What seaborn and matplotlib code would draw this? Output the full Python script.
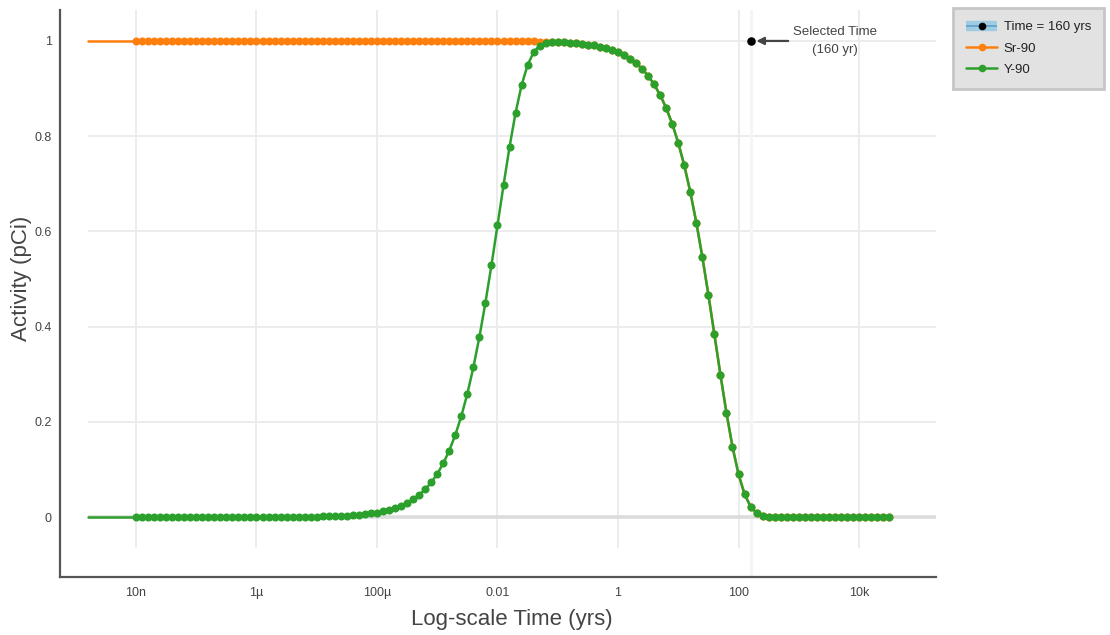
import numpy as np
import pandas as pd
import matplotlib
matplotlib.use("Agg")
import matplotlib.pyplot as plt
from matplotlib.lines import Line2D
import seaborn as sns

# ---------------- data ----------------
time_start_exp = -8.0      # first sampled time 10^-8 yr
time_stop_exp = 4.5        # last sampled time 10^4.5 yr
n_points = 126
time_yrs = np.logspace(time_start_exp, time_stop_exp, n_points)
lead_in_time = 1.6e-9      # line extends left without markers

sr90 = [
    1.0, 1.0, 1.0, 1.0, 1.0, 1.0, 1.0, 1.0, 1.0, 1.0,
    1.0, 1.0, 1.0, 1.0, 1.0, 1.0, 1.0, 1.0, 1.0, 1.0,
    1.0, 1.0, 1.0, 1.0, 1.0, 1.0, 1.0, 1.0, 1.0, 1.0,
    1.0, 1.0, 1.0, 1.0, 1.0, 1.0, 1.0, 1.0, 1.0, 1.0,
    1.0, 1.0, 1.0, 1.0, 1.0, 1.0, 1.0, 1.0, 1.0, 1.0,
    1.0, 1.0, 1.0, 1.0, 1.0, 1.0, 1.0, 1.0, 1.0, 1.0,
    0.9998, 0.9997, 0.9996, 0.9995, 0.9994, 0.9992, 0.9990, 0.9988, 0.9985, 0.9981,
    0.9976, 0.9970, 0.9962, 0.9952, 0.9940, 0.9924, 0.9905, 0.9880, 0.9849, 0.9811,
    0.9762, 0.9701, 0.9626, 0.9531, 0.9413, 0.9267, 0.9086, 0.8863, 0.8590, 0.8259,
    0.7860, 0.7385, 0.6827, 0.6185, 0.5462, 0.4670, 0.3834, 0.2991, 0.2188, 0.1477,
    0.0900, 0.0482, 0.0220, 0.0082, 0.0024, 0.0005, 0.0001, 0.0, 0.0, 0.0,
    0.0, 0.0, 0.0, 0.0, 0.0, 0.0, 0.0, 0.0, 0.0, 0.0,
    0.0, 0.0, 0.0, 0.0, 0.0, 0.0,
]

y90 = [
    0.0, 0.0, 0.0, 0.0, 0.0, 0.0, 0.0, 0.0, 0.0, 0.0,
    0.0, 0.0, 0.0, 0.0, 0.0, 0.0, 0.0, 0.0, 0.0, 0.0,
    0.0001, 0.0001, 0.0002, 0.0002, 0.0002, 0.0003, 0.0004, 0.0005, 0.0006, 0.0008,
    0.0009, 0.0012, 0.0015, 0.0019, 0.0024, 0.0030, 0.0038, 0.0047, 0.0060, 0.0075,
    0.0094, 0.0119, 0.0149, 0.0188, 0.0236, 0.0296, 0.0371, 0.0465, 0.0581, 0.0726,
    0.0905, 0.1126, 0.1397, 0.1725, 0.2121, 0.2592, 0.3146, 0.3785, 0.4505, 0.5293,
    0.6128, 0.6970, 0.7775, 0.8491, 0.9073, 0.9496, 0.9762, 0.9902, 0.9960, 0.9976,
    0.9976, 0.9970, 0.9962, 0.9952, 0.9940, 0.9924, 0.9905, 0.9880, 0.9849, 0.9811,
    0.9762, 0.9701, 0.9626, 0.9531, 0.9413, 0.9267, 0.9086, 0.8863, 0.8590, 0.8259,
    0.7860, 0.7385, 0.6827, 0.6185, 0.5462, 0.4670, 0.3834, 0.2991, 0.2188, 0.1477,
    0.0900, 0.0482, 0.0220, 0.0082, 0.0024, 0.0005, 0.0001, 0.0, 0.0, 0.0,
    0.0, 0.0, 0.0, 0.0, 0.0, 0.0, 0.0, 0.0, 0.0, 0.0,
    0.0, 0.0, 0.0, 0.0, 0.0, 0.0,
]

isotopes = ["Sr-90", "Y-90"]
selected_time = 160.0
selected_activity = 1.0

x_tick_values = [1e-8, 1e-6, 1e-4, 1e-2, 1, 100, 1e4]
x_tick_labels = ["10n", "1\u00b5", "100\u00b5", "0.01", "1", "100", "10k"]
y_tick_values = [0, 0.2, 0.4, 0.6, 0.8, 1.0]
y_tick_labels = ["0", "0.2", "0.4", "0.6", "0.8", "1"]

# ---------------- style ----------------
sns.set_style("white")
plt.rcParams["font.family"] = ["Liberation Sans", "DejaVu Sans"]
TXT = "#444444"
COL = {"Sr-90": "#ff7f0e", "Y-90": "#2ca02c"}

W, H = 1110, 635
fig = plt.figure(figsize=(W / 100, H / 100), dpi=100)
ax = fig.add_axes([60 / W, 1 - 577 / H, (936 - 60) / W, (577 - 10) / H])
ax.set_xscale("log")
xmin, xmax = 10 ** -9.2614, 10 ** 5.278
ymin, ymax = -0.126, 1.065
ax.set_xlim(xmin, xmax)
ax.set_ylim(ymin, ymax)

# grid lines (drawn as in reference: limited extents)
ax.hlines(y_tick_values[1:], lead_in_time, xmax, color="#ebebeb", lw=1.3, zorder=0)
ax.vlines(x_tick_values, -0.065, ymax, color="#ebebeb", lw=1.3, zorder=0)
ax.hlines([0], lead_in_time, xmax, color="#dcdcdc", lw=2.6, zorder=0.5)

# selected-time band (very faint)
ax.axvline(selected_time, color="#f1f6fb", lw=2.2, zorder=0.4)

df = pd.DataFrame({
    "time": np.concatenate([time_yrs, time_yrs]),
    "activity": np.array(sr90 + y90),
    "isotope": ["Sr-90"] * n_points + ["Y-90"] * n_points,
})

# lead-in segments without markers
for iso, vals in zip(isotopes, [sr90, y90]):
    ax.plot([lead_in_time, time_yrs[0]], [vals[0], vals[0]], color=COL[iso], lw=1.8, zorder=2)

sns.lineplot(data=df, x="time", y="activity", hue="isotope", palette=COL,
             marker="o", markersize=5.8, markeredgewidth=0, linewidth=1.8,
             errorbar=None, legend=False, ax=ax, zorder=3)

# selected time marker + annotation
ax.scatter([selected_time], [selected_activity], s=38, color="black", zorder=5, linewidths=0)
ax.annotate("Selected Time\n(160 yr)", xy=(selected_time, selected_activity),
            xytext=(84, 0), textcoords="offset pixels", ha="center", va="center",
            fontsize=9.5, color=TXT, linespacing=1.6,
            arrowprops=dict(arrowstyle="-|>", color=TXT, lw=1.6, shrinkA=1, shrinkB=4,
                            mutation_scale=11))

# axes styling
ax.set_xticks(x_tick_values)
ax.set_xticklabels(x_tick_labels)
ax.minorticks_off()
ax.set_yticks(y_tick_values)
ax.set_yticklabels(y_tick_labels)
ax.tick_params(axis="both", length=0, labelsize=9, labelcolor=TXT)
ax.tick_params(axis="x", pad=13.5)
ax.tick_params(axis="y", pad=6)
for lab in ax.get_xticklabels():
    lab.set_verticalalignment("baseline")
for s in ["top", "right"]:
    ax.spines[s].set_visible(False)
for s in ["left", "bottom"]:
    ax.spines[s].set_color("#555555")
    ax.spines[s].set_linewidth(1.6)
ax.set_xlabel("")
ax.set_ylabel("")

fig.text(512 / W, 1 - 620 / H, "Log-scale Time (yrs)", ha="center", va="center",
         fontsize=16, color=TXT)
fig.text(22 / W, 1 - 278 / H, "Activity (pCi)", ha="center", va="center",
         rotation=90, fontsize=16, color=TXT)

# legend
h_time = (Line2D([], [], color="#9fcbe3", lw=7.5, solid_capstyle="butt"),
          Line2D([], [], color="#5e9fc9", lw=1.2, marker="o", markersize=5.5,
                 markerfacecolor="black", markeredgewidth=0, solid_capstyle="butt"))
h_sr = Line2D([], [], color=COL["Sr-90"], lw=1.8, marker="o", markersize=5.5, markeredgewidth=0)
h_y = Line2D([], [], color=COL["Y-90"], lw=1.8, marker="o", markersize=5.5, markeredgewidth=0)
leg = fig.legend([h_time, h_sr, h_y], ["Time = 160 yrs", "Sr-90", "Y-90"],
                 loc="upper left", bbox_to_anchor=(953 / W, 1 - 8 / H),
                 fontsize=9.5, frameon=True, fancybox=False, framealpha=1,
                 facecolor="#e2e2e2", edgecolor="#c6c6c6", borderpad=1.0,
                 labelspacing=0.68, handlelength=2.35, handletextpad=0.5,
                 borderaxespad=0)
leg.get_frame().set_linewidth(2)
for t in leg.get_texts():
    t.set_color("#222222")

fig.savefig("out.png", dpi=100)
